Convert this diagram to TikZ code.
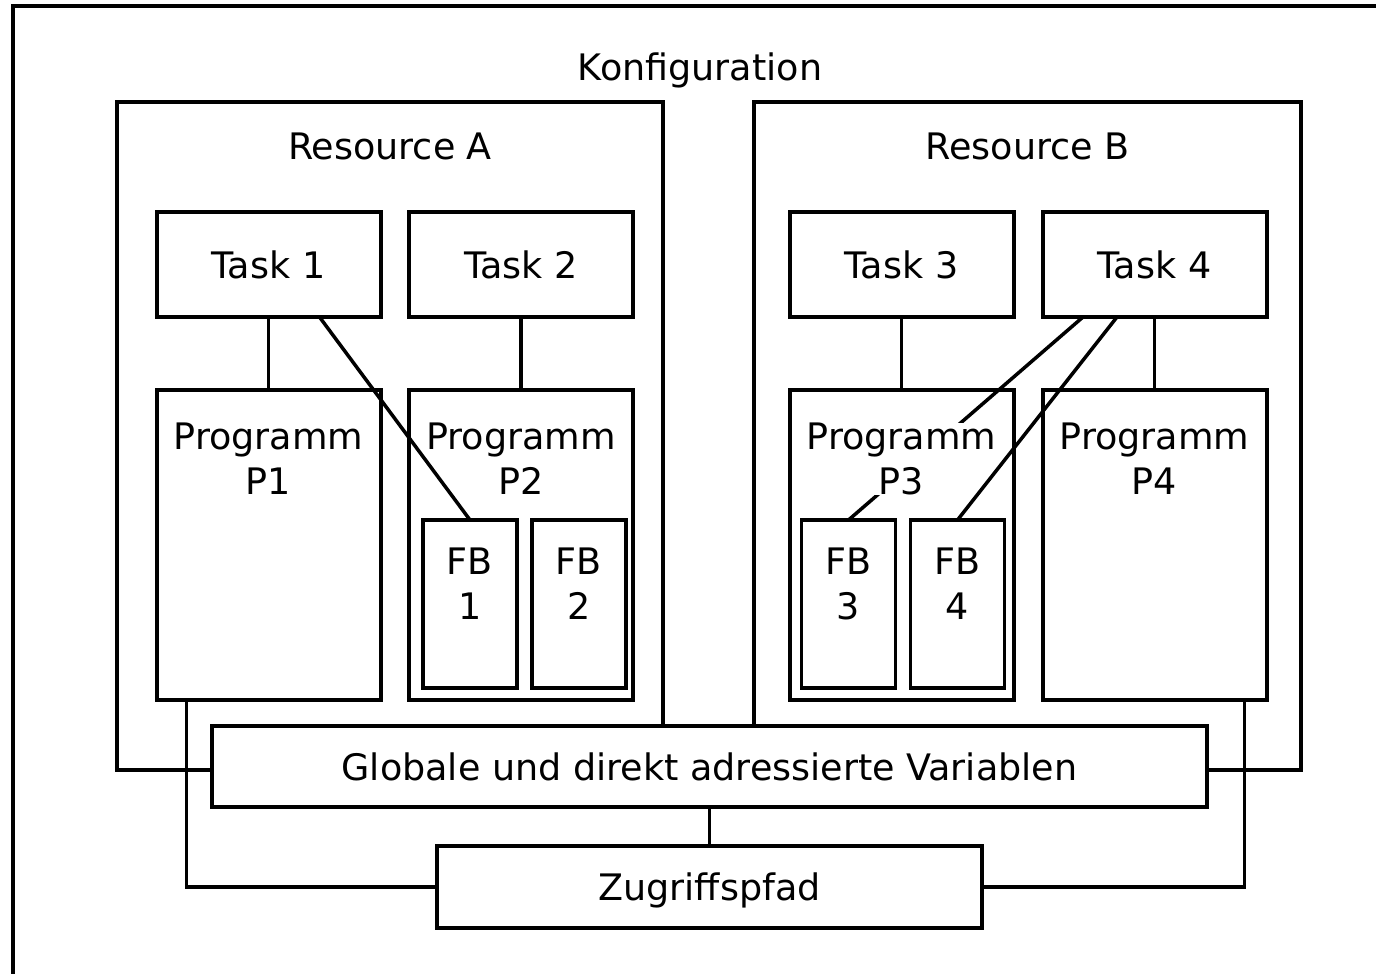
\documentclass[tikz,border=0pt]{standalone}
\usepackage{fontspec}
\setmainfont{DejaVu Sans}
\begin{document}
\begin{tikzpicture}[x=1pt,y=-1pt,line width=4pt,
  box/.style={draw,fill=white,rectangle,inner sep=0pt,outer sep=0pt},
  frame/.style={draw,rectangle,inner sep=0pt,outer sep=0pt},
  task/.style={box,minimum width=224pt,minimum height=105pt,
    text height=27pt,text depth=0pt,font=\fontsize{36.5}{44.5}\selectfont},
  prog/.style={box,minimum width=224pt,minimum height=310pt},
  fb/.style={box,line width=3.5pt,minimum width=94pt,minimum height=168pt},
  lbl/.style={inner sep=0pt,outer sep=0pt,align=center,
    font=\fontsize{36.5}{44.5}\selectfont},
  wide/.style={box,text height=27pt,text depth=0pt,
    font=\fontsize{36.5}{44.5}\selectfont},
  link/.style={line width=3.5pt}]
\useasboundingbox (0,0) rectangle (1376,974);
\clip (0,0) rectangle (1376,974);

% configuration frame (runs off the page to the right and below)
\draw[line width=4.5pt] (13,6) rectangle (1420,1020);
\node[lbl,anchor=base] (konf) at (700,81) {Konfiguration};

% resources
\node[frame,minimum width=546pt,minimum height=668pt] (resA) at (390,436) {};
\node[frame,minimum width=547pt,minimum height=668pt] (resB) at (1027.5,436) {};
\node[lbl,anchor=base] (resAt) at (390,159) {Resource A};
\node[lbl,anchor=base] (resBt) at (1027.5,159) {Resource B};

% tasks
\node[task] (t1) at (268.5,264.5) {Task 1};
\node[task] (t2) at (521,264.5) {Task 2};
\node[task] (t3) at (901.5,264.5) {Task 3};
\node[task] (t4) at (1154.5,264.5) {Task 4};

% programs
\node[prog] (p1) at (268.5,545) {};
\node[prog] (p2) at (521,545) {};
\node[prog] (p3) at (901.5,545) {};
\node[prog] (p4) at (1154.5,545) {};

% function blocks
\node[fb] (fb1) at (470,604) {};
\node[fb] (fb2) at (579,604) {};
\node[fb] (fb3) at (848.5,604) {};
\node[fb] (fb4) at (957.5,604) {};
\node[lbl,anchor=north] (fb1t) at (470,548) {FB\\1};
\node[lbl,anchor=north] (fb2t) at (579,548) {FB\\2};
\node[lbl,anchor=north] (fb3t) at (848.5,548) {FB\\3};
\node[lbl,anchor=north] (fb4t) at (957.5,548) {FB\\4};

% task to program links
\draw[link] (t1.south) -- (p1.north);
\draw[link] (t2.south) -- (p2.north);
\draw[link] (t3.south) -- (p3.north);
\draw[link] (t4.south) -- (p4.north);

% this link passes behind the P3 label
\draw[link] ([xshift=-71.5pt]t4.south) -- (fb3.north);

% program labels on white ground
\node[lbl,fill=white,anchor=north] (p1t) at (268.5,423) {Programm\\P1};
\node[lbl,fill=white,anchor=north] (p2t) at (521,423) {Programm\\P2};
\node[lbl,fill=white,anchor=north] (p3t) at (901.5,423) {Programm\\P3};
\node[lbl,fill=white,anchor=north] (p4t) at (1154.5,423) {Programm\\P4};

% task to function block links
\draw[link] ([xshift=51pt]t1.south) -- (fb1.north);
\draw[link] ([xshift=-37.5pt]t4.south) -- (fb4.north);

% access paths
\node[wide,minimum width=545pt,minimum height=82pt] (z) at (709.5,887) {Zugriffspfad};
\draw[link] ([xshift=30pt]p1.south west) |- (z.west);
\draw[link] ([xshift=-22pt]p4.south east) |- (z.east);
\node[wide,minimum width=995pt,minimum height=81pt] (g) at (709.5,766.5)
  {Globale und direkt adressierte Variablen};
\draw[link] (g.south) -- (z.north);
\end{tikzpicture}
\end{document}
